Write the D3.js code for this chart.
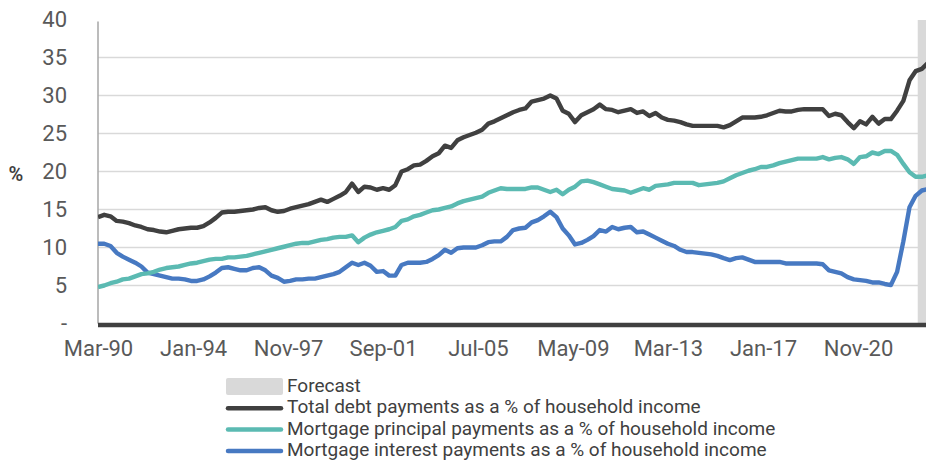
<!DOCTYPE html>
<html>
<head>
<meta charset="utf-8">
<script src="https://cdn.jsdelivr.net/npm/d3@7"></script>
<style>
  html, body { margin: 0; padding: 0; background: #fff; }
  svg { display: block; font-family: Roboto, "Noto Sans", sans-serif; }
</style>
</head>
<body>
<svg id="chart" width="926" height="461"></svg>
<script>
// Quarterly series, starting March 1990
const startMonth = "Mar-90";

const totalDebt = [
  14.0, 14.3, 14.1, 13.5, 13.4, 13.2, 12.9, 12.7, 12.4, 12.3,
  12.1, 12.0, 12.2, 12.4, 12.5, 12.6, 12.6, 12.8, 13.3, 13.9,
  14.6, 14.7, 14.7, 14.8, 14.9, 15.0, 15.2, 15.3, 14.9, 14.7,
  14.8, 15.1, 15.3, 15.5, 15.7, 16.0, 16.3, 16.0, 16.4, 16.8,
  17.3, 18.4, 17.3, 18.0, 17.9, 17.6, 17.8, 17.6, 18.2, 20.0,
  20.3, 20.8, 20.9, 21.4, 22.0, 22.4, 23.4, 23.1, 24.1, 24.5,
  24.8, 25.1, 25.5, 26.3, 26.6, 27.0, 27.4, 27.8, 28.1, 28.3,
  29.2, 29.4, 29.6, 30.0, 29.6, 28.0, 27.6, 26.5, 27.4, 27.8,
  28.2, 28.8, 28.2, 28.1, 27.8, 28.0, 28.2, 27.7, 27.9, 27.3,
  27.7, 27.1, 26.8, 26.7, 26.5, 26.2, 26.0, 26.0, 26.0, 26.0,
  26.0, 25.8, 26.1, 26.6, 27.1, 27.1, 27.1, 27.2, 27.4, 27.7,
  28.0, 27.9, 27.9, 28.1, 28.2, 28.2, 28.2, 28.2, 27.3, 27.6,
  27.4, 26.5, 25.7, 26.6, 26.2, 27.2, 26.3, 26.9, 26.9, 28.0,
  29.3, 32.0, 33.2, 33.5, 34.3
];

const mortgagePrincipal = [
   4.8,  5.0,  5.3,  5.5,  5.8,  5.9,  6.2,  6.5,  6.6,  6.8,
   7.1,  7.3,  7.4,  7.5,  7.7,  7.9,  8.0,  8.2,  8.4,  8.5,
   8.5,  8.7,  8.7,  8.8,  8.9,  9.1,  9.3,  9.5,  9.7,  9.9,
  10.1, 10.3, 10.5, 10.6, 10.6, 10.8, 11.0, 11.1, 11.3, 11.4,
  11.4, 11.6, 10.7, 11.3, 11.7, 12.0, 12.2, 12.4, 12.7, 13.5,
  13.7, 14.1, 14.3, 14.6, 14.9, 15.0, 15.2, 15.4, 15.8, 16.1,
  16.3, 16.5, 16.7, 17.2, 17.5, 17.8, 17.7, 17.7, 17.7, 17.7,
  17.9, 17.9, 17.6, 17.3, 17.6, 17.0, 17.6, 18.0, 18.7, 18.8,
  18.6, 18.3, 18.0, 17.7, 17.6, 17.5, 17.2, 17.5, 17.8, 17.6,
  18.1, 18.2, 18.3, 18.5, 18.5, 18.5, 18.5, 18.2, 18.3, 18.4,
  18.5, 18.7, 19.1, 19.5, 19.8, 20.1, 20.3, 20.6, 20.6, 20.8,
  21.1, 21.3, 21.5, 21.7, 21.7, 21.7, 21.7, 21.9, 21.6, 21.8,
  21.9, 21.6, 21.0, 21.9, 22.0, 22.5, 22.3, 22.7, 22.7, 22.2,
  21.0, 19.9, 19.3, 19.3, 19.5
];

const mortgageInterest = [
  10.5, 10.5, 10.2,  9.3,  8.8,  8.4,  8.0,  7.5,  6.7,  6.5,
   6.3,  6.1,  5.9,  5.9,  5.8,  5.6,  5.6,  5.8,  6.2,  6.7,
   7.3,  7.4,  7.2,  7.0,  7.0,  7.3,  7.4,  7.0,  6.3,  6.0,
   5.5,  5.6,  5.8,  5.8,  5.9,  5.9,  6.1,  6.3,  6.5,  6.8,
   7.4,  8.0,  7.7,  8.0,  7.6,  6.8,  6.9,  6.3,  6.3,  7.7,
   8.0,  8.0,  8.0,  8.1,  8.5,  9.0,  9.7,  9.3,  9.9, 10.0,
  10.0, 10.0, 10.3, 10.7, 10.8, 10.8, 11.4, 12.3, 12.5, 12.6,
  13.3, 13.6, 14.1, 14.7, 14.0, 12.5, 11.6, 10.4, 10.6, 11.0,
  11.5, 12.3, 12.1, 12.7, 12.4, 12.6, 12.7, 12.0, 12.1, 11.7,
  11.3, 10.9, 10.5, 10.2,  9.7,  9.4,  9.4,  9.3,  9.2,  9.1,
   8.9,  8.6,  8.35, 8.6,  8.7,  8.4,  8.1,  8.1,  8.1,  8.1,
   8.1,  7.9,  7.9,  7.9,  7.9,  7.9,  7.9,  7.8,  7.0,  6.8,
   6.6,  6.1,  5.8,  5.7,  5.6,  5.4,  5.4,  5.2,  5.05, 6.8,
  10.8, 15.3, 16.8, 17.5, 17.7
];

const xTickLabels = ["Mar-90", "Jan-94", "Nov-97", "Sep-01", "Jul-05",
                     "May-09", "Mar-13", "Jan-17", "Nov-20"];
const yTicks = [0, 5, 10, 15, 20, 25, 30, 35, 40];
const axisEnd = "Aug-23";
const forecastStart = "Apr-23";

const seriesNames = [
  "Total debt payments as a % of household income",
  "Mortgage principal payments as a % of household income",
  "Mortgage interest payments as a % of household income"
];
const forecastName = "Forecast";

// ---- drawing ----
const parse = d3.timeParse("%b-%y");
const fmt = d3.timeFormat("%b-%y");
const start = parse(startMonth);
const dateAt = i => d3.timeMonth.offset(start, 3 * i);

const colors = ["#404040", "#5bbab2", "#4779c2"];
const values = [totalDebt, mortgagePrincipal, mortgageInterest];

const svg = d3.select("#chart");
const plotLeft = 98, plotRight = 926, plotTop = 19.5, plotBottom = 323.5;

const x = d3.scaleTime()
  .domain([start, parse(axisEnd)])
  .range([plotLeft, plotRight]);
const y = d3.scaleLinear().domain([0, 40]).range([plotBottom, plotTop]);

// forecast band
const fx = x(parse(forecastStart));
svg.append("rect")
  .attr("x", fx).attr("y", y(40) + 0.5)
  .attr("width", plotRight - fx).attr("height", y(0) - y(40))
  .attr("fill", "#d9d9d9");

// gridlines
svg.append("g")
  .selectAll("line")
  .data(yTicks.filter(t => t > 0 && t < 40))
  .join("line")
  .attr("x1", plotLeft).attr("x2", plotRight)
  .attr("y1", d => y(d)).attr("y2", d => y(d))
  .attr("stroke", "#d9d9d9").attr("stroke-width", 1.5);

// y axis
const yAxis = svg.append("g")
  .attr("transform", `translate(${plotLeft},0)`)
  .call(d3.axisLeft(y).tickValues(yTicks)
    .tickFormat(d => d === 0 ? "-" : d3.format("d")(d))
    .tickSize(0).tickPadding(31));
yAxis.select(".domain")
  .attr("stroke", "#a6a6a6").attr("stroke-width", 1.5)
  .attr("d", `M0,${y(40) + 2}V${y(0)}`);
yAxis.selectAll("text")
  .attr("fill", "#595959").attr("font-size", 22)
  .attr("font-family", "Roboto, sans-serif");

svg.append("text")
  .attr("x", 16).attr("y", 176)
  .attr("text-anchor", "middle").attr("dominant-baseline", "middle")
  .attr("font-size", 20).attr("font-weight", 600)
  .attr("fill", "#404040")
  .text("%");

// lines
const line = d3.line()
  .x((d, i) => x(dateAt(i)))
  .y(d => y(d))
  .curve(d3.curveLinear);

svg.append("defs").append("clipPath").attr("id", "plotclip")
  .append("rect").attr("x", plotLeft).attr("y", 0)
  .attr("width", plotRight - plotLeft).attr("height", 461);

const lines = svg.append("g").attr("clip-path", "url(#plotclip)");
[2, 1, 0].forEach(k => {
  lines.append("path")
    .datum(values[k])
    .attr("fill", "none")
    .attr("stroke", colors[k])
    .attr("stroke-width", 4.4)
    .attr("stroke-linejoin", "round")
    .attr("d", line);
});

// x axis
const xAxis = svg.append("g")
  .attr("transform", `translate(0,${y(0)})`)
  .call(d3.axisBottom(x)
    .tickValues(xTickLabels.map(parse))
    .tickFormat(fmt)
    .tickSize(0).tickPadding(17));
xAxis.select(".domain")
  .attr("stroke", "#404040").attr("stroke-width", 4.5)
  .attr("d", `M${plotLeft},1.5H${plotRight}`);
xAxis.selectAll("text")
  .attr("fill", "#595959").attr("font-size", 22)
  .attr("font-family", "Roboto, sans-serif");

// legend
const legend = svg.append("g").attr("transform", "translate(226,387)");
legend.append("rect")
  .attr("x", 0).attr("y", -9).attr("width", 57).attr("height", 17)
  .attr("rx", 2).attr("fill", "#d9d9d9");
legend.append("text")
  .attr("x", 61).attr("y", 0).attr("dominant-baseline", "middle")
  .attr("font-size", 19).attr("fill", "#404040")
  .text(forecastName);
seriesNames.forEach((name, k) => {
  const g = legend.append("g").attr("transform", `translate(0,${21.3 + 21.3 * k})`);
  g.append("line")
    .attr("x1", 2).attr("x2", 55)
    .attr("stroke", colors[k]).attr("stroke-width", 4.5)
    .attr("stroke-linecap", "round");
  g.append("text")
    .attr("x", 61).attr("y", 0).attr("dominant-baseline", "middle")
    .attr("font-size", 19).attr("fill", "#404040")
    .text(name);
});
</script>
</body>
</html>
